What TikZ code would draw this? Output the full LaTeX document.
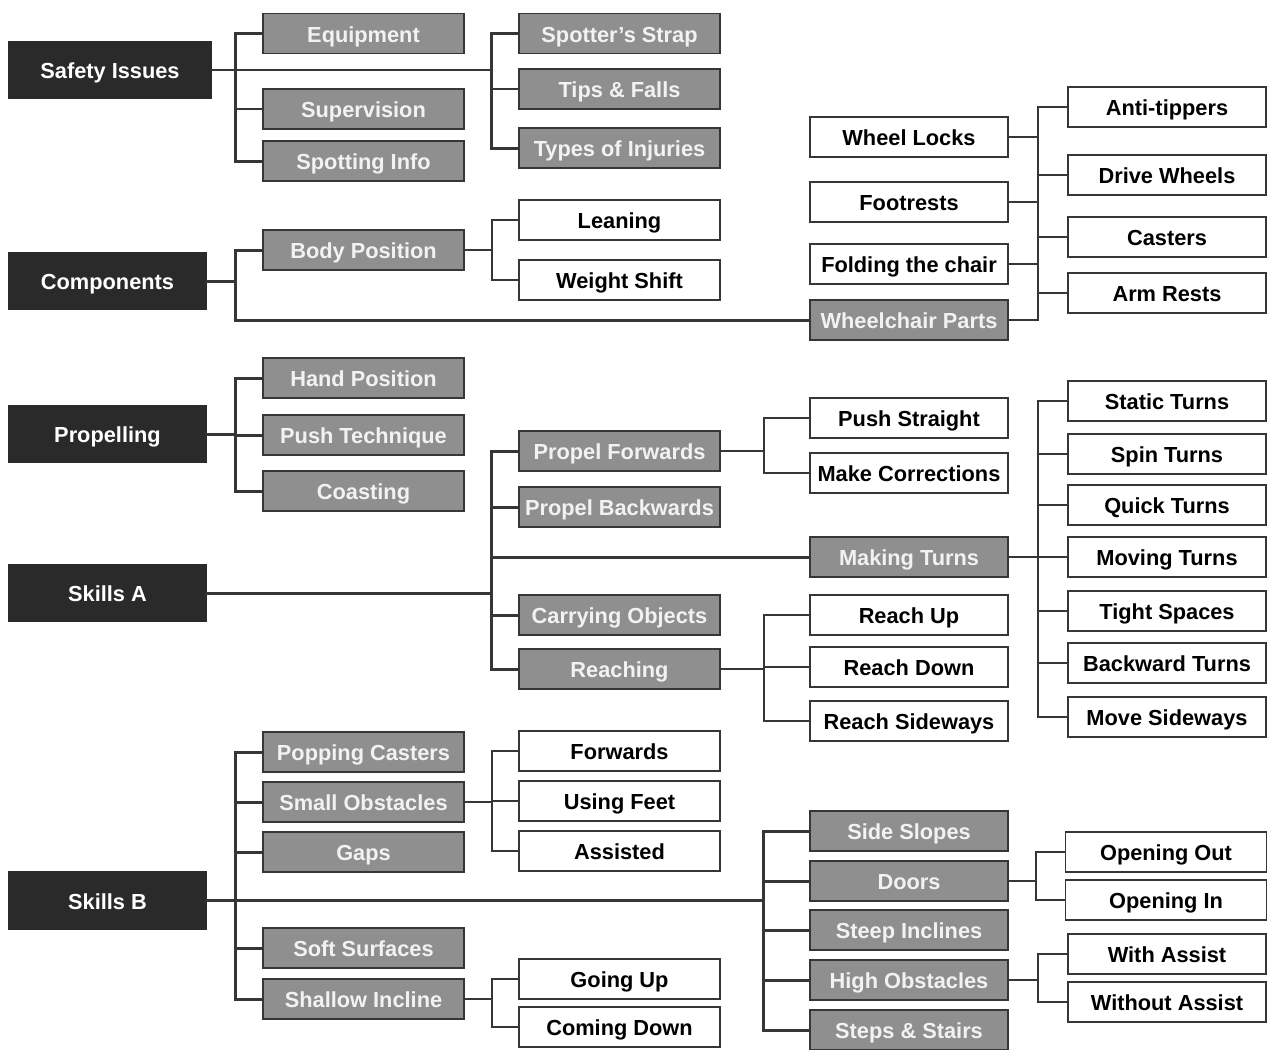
\documentclass[tikz,border=0pt]{standalone}
\usepackage{fontspec}
\setmainfont{Liberation Sans}
\definecolor{headfill}{HTML}{2A2A2A}
\definecolor{midfill}{HTML}{8F8F8F}
\definecolor{rim}{HTML}{363636}
\tikzset{
  box/.style={rectangle, inner sep=0pt, outer sep=0pt, minimum width=4.02cm,
    minimum height=0.8cm, line width=1.1pt, text height=9.8pt, text depth=-0.9pt,
    font=\fontsize{12.4}{14}\selectfont\bfseries},
  head/.style={box, fill=headfill, draw=headfill, text=white, minimum width=3.94cm, minimum height=1.14cm},
  mid/.style={box, fill=midfill, draw=rim, text=white!95!black},
  leaf/.style={box, fill=white, draw=rim, text=black},
  narrow/.style={minimum width=3.96cm},
  bus/.style={draw=rim, line width=1.7pt},
  twig/.style={draw=rim, line width=0.9pt}
}
\begin{document}
\begin{tikzpicture}[x=0.02cm, y=-0.02cm]
\useasboundingbox (0,0) rectangle (1268,1049);

% main headings
\node[head, minimum width=4.04cm] (safety) at (110,70) {Safety Issues};
\node[head] (comp) at (107.5,281) {Components};
\node[head] (prop) at (107.5,434) {Propelling};
\node[head] (ska)  at (107.5,593) {Skills A};
\node[head] (skb)  at (107.5,900.5) {Skills B};

% safety issues
\node[mid] (equip)    at (363.5,33.5) {Equipment};
\node[mid] (superv)   at (363.5,109) {Supervision};
\node[mid] (spotinfo) at (363.5,161) {Spotting Info};
\node[mid] (strap)    at (619.5,33.5) {Spotter's Strap};
\node[mid] (tips)     at (619.5,89)  {Tips \& Falls};
\node[mid] (injuries) at (619.5,148) {Types of Injuries};
\foreach \n in {equip,superv,spotinfo}
  \draw[bus] (safety.east) -- ++(25,0) |- (\n.west);
\foreach \n in {strap,tips,injuries}
  \draw[bus] (safety.east) -- ++(281,0) |- (\n.west);

% components
\node[mid]  (body)  at (363.5,250) {Body Position};
\node[leaf] (lean)  at (619.5,220) {Leaning};
\node[leaf] (shift) at (619.5,280) {Weight Shift};
\node[mid, narrow]  (parts)     at (909,320) {Wheelchair Parts};
\node[leaf, narrow] (locks)     at (909,137) {Wheel Locks};
\node[leaf, narrow] (footrests) at (909,202) {Footrests};
\node[leaf, narrow] (folding)   at (909,264) {Folding the chair};
\node[leaf, narrow] (anti)    at (1167,107) {Anti-tippers};
\node[leaf, narrow] (drive)   at (1167,175) {Drive Wheels};
\node[leaf, narrow] (casters) at (1167,237) {Casters};
\node[leaf, narrow] (arm)     at (1167,293) {Arm Rests};
\foreach \n in {body,parts}
  \draw[bus] (comp.east) -- ++(30,0) |- (\n.west);
\foreach \n in {lean,shift}
  \draw[twig] (body.east) -- ++(28,0) |- (\n.west);
\foreach \n in {locks,footrests,folding}
  \draw[twig] (\n.east) -- ++(30,0);
\foreach \n in {anti,drive,casters,arm}
  \draw[twig] (parts.east) -- ++(30,0) |- (\n.west);

% propelling
\node[mid] (hand)     at (363.5,378) {Hand Position};
\node[mid] (pushtech) at (363.5,435) {Push Technique};
\node[mid] (coast)    at (363.5,491) {Coasting};
\foreach \n in {hand,pushtech,coast}
  \draw[bus] (prop.east) -- ++(30,0) |- (\n.west);

% skills a
\node[mid] (pfwd)  at (619.5,451) {Propel Forwards};
\node[mid] (pbwd)  at (619.5,507) {Propel Backwards};
\node[mid] (carry) at (619.5,615) {Carrying Objects};
\node[mid] (reach) at (619.5,669) {Reaching};
\node[mid, narrow]  (turns)       at (909,557) {Making Turns};
\node[leaf, narrow] (straight)    at (909,418) {Push Straight};
\node[leaf, narrow] (corrections) at (909,473) {Make Corrections};
\node[leaf, narrow] (reachup)     at (909,615) {Reach Up};
\node[leaf, narrow] (reachdown)   at (909,667) {Reach Down};
\node[leaf, narrow] (reachside)   at (909,721) {Reach Sideways};
\node[leaf, narrow] (static)   at (1167,401) {Static Turns};
\node[leaf, narrow] (spin)     at (1167,454) {Spin Turns};
\node[leaf, narrow] (quick)    at (1167,505) {Quick Turns};
\node[leaf, narrow] (moving)   at (1167,557) {Moving Turns};
\node[leaf, narrow] (tight)    at (1167,611) {Tight Spaces};
\node[leaf, narrow] (backward) at (1167,663) {Backward Turns};
\node[leaf, narrow] (sideways) at (1167,717) {Move Sideways};
\foreach \n in {pfwd,pbwd,turns,carry,reach}
  \draw[bus] (ska.east) -- ++(286,0) |- (\n.west);
\foreach \n in {straight,corrections}
  \draw[twig] (pfwd.east) -- ++(44,0) |- (\n.west);
\foreach \n in {reachup,reachdown,reachside}
  \draw[twig] (reach.east) -- ++(44,0) |- (\n.west);
\foreach \n in {static,spin,quick,moving,tight,backward,sideways}
  \draw[twig] (turns.east) -- ++(30,0) |- (\n.west);

% skills b
\node[mid] (popping) at (363.5,752) {Popping Casters};
\node[mid] (small)   at (363.5,802) {Small Obstacles};
\node[mid] (gaps)    at (363.5,852) {Gaps};
\node[mid] (soft)    at (363.5,948) {Soft Surfaces};
\node[mid] (shallow) at (363.5,999) {Shallow Incline};
\node[leaf] (fwds)     at (619.5,751)  {Forwards};
\node[leaf] (feet)     at (619.5,801)  {Using Feet};
\node[leaf] (assisted) at (619.5,851)  {Assisted};
\node[leaf] (goup)     at (619.5,979)  {Going Up};
\node[leaf] (comedown) at (619.5,1027) {Coming Down};
\node[mid, narrow] (slopes)  at (909,831)  {Side Slopes};
\node[mid, narrow] (doors)   at (909,881)  {Doors};
\node[mid, narrow] (steep)   at (909,930)  {Steep Inclines};
\node[mid, narrow] (highobs) at (909,980)  {High Obstacles};
\node[mid, narrow] (steps)   at (909,1030) {Steps \& Stairs};
\node[leaf] (openout)   at (1166,852) {Opening Out};
\node[leaf] (openin)    at (1166,900) {Opening In};
\node[leaf, narrow] (withas)    at (1167,954)  {With Assist};
\node[leaf, narrow] (withoutas) at (1167,1002) {Without Assist};
\foreach \n in {popping,small,gaps,soft,shallow}
  \draw[bus] (skb.east) -- ++(30,0) |- (\n.west);
\foreach \n in {slopes,doors,steep,highobs,steps}
  \draw[bus] (skb.east) -- ++(558,0) |- (\n.west);
\foreach \n in {fwds,feet,assisted}
  \draw[twig] (small.east) -- ++(28,0) |- (\n.west);
\foreach \n in {goup,comedown}
  \draw[twig] (shallow.east) -- ++(28,0) |- (\n.west);
\foreach \n in {openout,openin}
  \draw[twig] (doors.east) -- ++(28,0) |- (\n.west);
\foreach \n in {withas,withoutas}
  \draw[twig] (highobs.east) -- ++(30,0) |- (\n.west);
\end{tikzpicture}
\end{document}
